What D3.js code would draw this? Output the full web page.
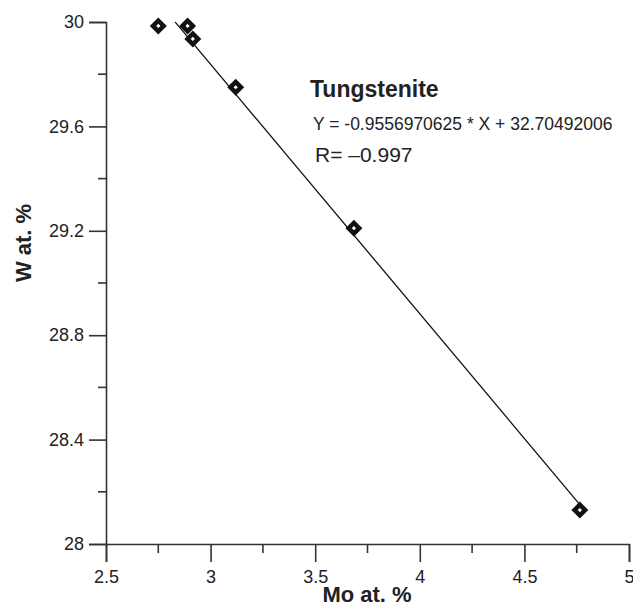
<!DOCTYPE html>
<html lang="en">
<head>
    <meta charset="UTF-8">
    <title>Tungstenite Mo vs W</title>
    <style>
        body { margin: 0; background: #fff; }
        text { font-family: "Liberation Sans", Arial, sans-serif; fill: #222; }
    </style>
    <script src="https://d3js.org/d3.v7.min.js"></script>
</head>
<body>
    <svg width="633" height="606"></svg>
    <script>
        // measured points (Mo at.% / W at.%)
        const moValues = [2.75, 2.89, 2.915, 3.12, 3.685, 4.765];
        const wValues = [29.985, 29.985, 29.935, 29.75, 29.21, 28.13];

        // fitted line
        const slope = -0.9556970625;
        const intercept = 32.70492006;
        const fitRange = [2.83, 4.765];

        const xTicks = [2.5, 3, 3.5, 4, 4.5, 5];
        const xMinorTicks = [2.75, 3.25, 3.75, 4.25, 4.75];
        const yTicks = [28, 28.4, 28.8, 29.2, 29.6, 30];
        const yMinorTicks = [28.2, 28.6, 29.0, 29.4, 29.8];

        const svg = d3.select("svg");
        const margin = { top: 22, right: 4, bottom: 62, left: 106 };
        const width = +svg.attr("width"),
            height = +svg.attr("height");

        const x = d3.scaleLinear().domain([2.5, 5]).range([margin.left, width - margin.right]);
        const y = d3.scaleLinear().domain([28, 30]).range([height - margin.bottom, margin.top]);

        const axisColor = "#333";

        // x axis
        const gx = svg.append("g")
            .attr("transform", `translate(0,${height - margin.bottom})`)
            .call(d3.axisBottom(x).tickValues(xTicks).tickSize(18).tickPadding(8)
                .tickFormat(d3.format("")));
        gx.selectAll("text").attr("font-size", 18);
        gx.append("g").selectAll("line")
            .data(xMinorTicks)
            .enter().append("line")
            .attr("x1", d => x(d)).attr("x2", d => x(d))
            .attr("y1", 0).attr("y2", 9);

        // y axis
        const gy = svg.append("g")
            .attr("transform", `translate(${margin.left},0)`)
            .call(d3.axisLeft(y).tickValues(yTicks).tickSize(17).tickPadding(5)
                .tickFormat(d3.format("")));
        gy.selectAll("text").attr("font-size", 18);
        gy.append("g").selectAll("line")
            .data(yMinorTicks)
            .enter().append("line")
            .attr("y1", d => y(d)).attr("y2", d => y(d))
            .attr("x1", 0).attr("x2", -8);

        svg.selectAll(".domain").attr("stroke", axisColor).attr("stroke-width", 1.6);
        svg.selectAll("g line").attr("stroke", axisColor).attr("stroke-width", 1.6);
        svg.selectAll(".tick text").attr("font-family", "Liberation Sans, Arial, sans-serif").attr("fill", "#222");

        // axis titles
        svg.append("text")
            .attr("x", 367)
            .attr("y", 602)
            .attr("text-anchor", "middle")
            .attr("font-size", 22)
            .attr("font-weight", "bold")
            .text("Mo at. %");

        svg.append("text")
            .attr("transform", "translate(31,243) rotate(-90)")
            .attr("text-anchor", "middle")
            .attr("font-size", 22)
            .attr("font-weight", "bold")
            .text("W at. %");

        // regression line
        svg.append("line")
            .attr("x1", x(fitRange[0]))
            .attr("y1", y(slope * fitRange[0] + intercept))
            .attr("x2", x(fitRange[1]))
            .attr("y2", y(slope * fitRange[1] + intercept))
            .attr("stroke", "#111")
            .attr("stroke-width", 1.3);

        // points as hollow diamonds
        const points = moValues.map((m, i) => ({ mo: m, w: wValues[i] }));
        svg.append("g")
            .selectAll("rect")
            .data(points)
            .enter().append("rect")
            .attr("x", -3.75).attr("y", -3.75)
            .attr("width", 7.5).attr("height", 7.5)
            .attr("transform", d => `translate(${x(d.mo)},${y(d.w)}) rotate(45)`)
            .attr("fill", "#fff")
            .attr("stroke", "#111")
            .attr("stroke-width", 4.5);

        // annotation
        svg.append("text")
            .attr("x", 310).attr("y", 97)
            .attr("font-size", 23)
            .attr("font-weight", "bold")
            .text("Tungstenite");

        svg.append("text")
            .attr("x", 313).attr("y", 130)
            .attr("font-size", 17.5)
            .text(`Y = ${slope} * X + ${intercept}`);

        svg.append("text")
            .attr("x", 315).attr("y", 162)
            .attr("font-size", 21)
            .text("R= \u20130.997");
    </script>
</body>
</html>
